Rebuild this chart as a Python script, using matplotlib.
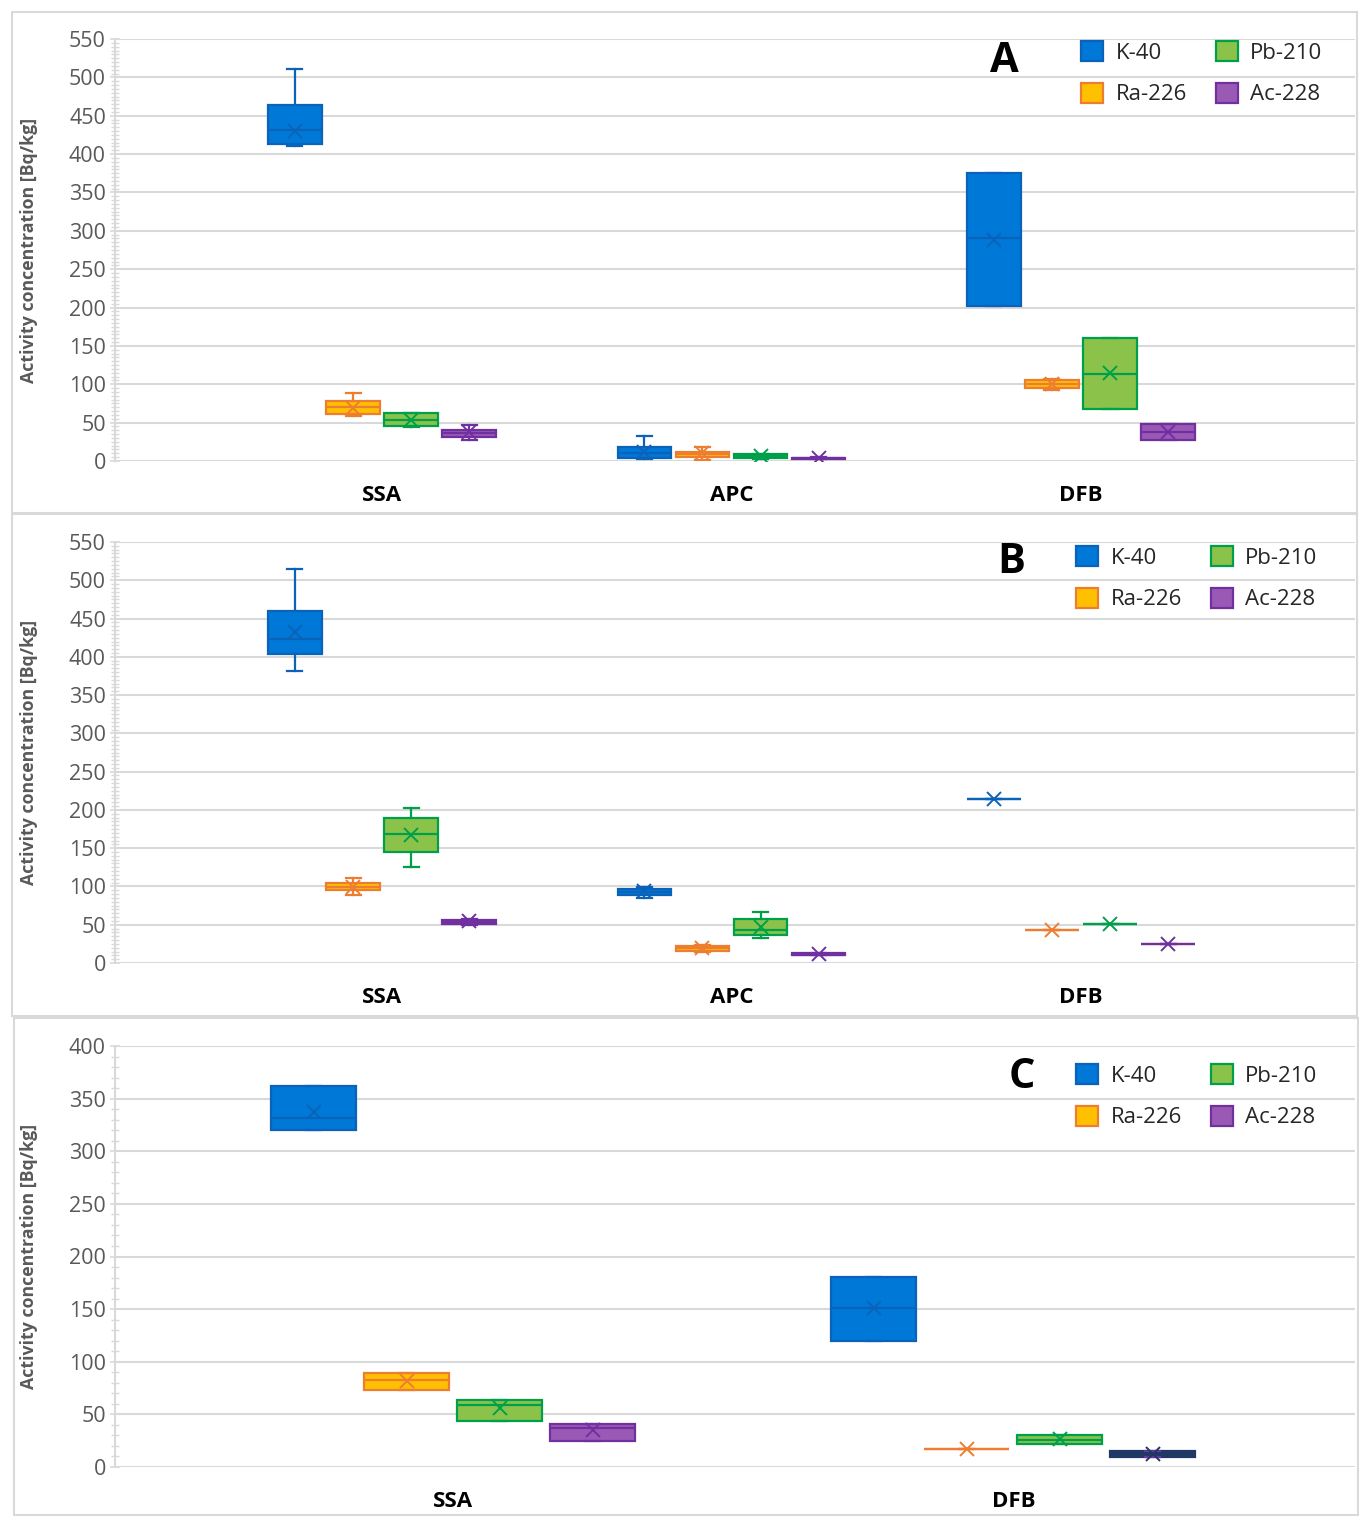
import numpy as np
import matplotlib
matplotlib.use("Agg")
import matplotlib.pyplot as plt
from matplotlib.patches import Patch, Rectangle

plt.rcParams['font.family'] = ['Open Sans', 'DejaVu Sans']

isotopes = ["K-40", "Ra-226", "Pb-210", "Ac-228"]
fills = ["#0078D7", "#FFC000", "#8BC34A", "#9B59B6"]
edges = ["#0A63B8", "#ED7D31", "#00A04B", "#7030A0"]

# panel A: SSA, APC, DFB  -> per isotope: whislo, q1, med, q3, whishi, mean
cats_A = ["SSA", "APC", "DFB"]
A_whislo = [[411, 2, 202], [58, 1, 93], [44, 2, 68], [28, 2, 28]]
A_q1     = [[413, 3.5, 202], [61, 5.5, 95], [45, 3.5, 68], [31, 2.5, 28]]
A_med    = [[431, 11, 290], [70, 8.5, 100], [53, 6, 113], [36, 3.5, 38]]
A_q3     = [[464, 18, 376], [78, 12, 105], [62, 8.5, 160], [40, 4.5, 48]]
A_whishi = [[511, 32, 376], [88, 18, 107], [62, 9, 160], [47, 5, 48]]
A_mean   = [[430, 12, 288], [69, 10, 100], [53, 6, 115], [38, 4, 38]]

# panel B
cats_B = ["SSA", "APC", "DFB"]
B_whislo = [[381, 85, 214.7], [89, 14, 42.7], [125, 33, 51.4], [50, 10, 25.3]]
B_q1     = [[404, 88.5, 214.7], [95, 16, 42.7], [145, 36, 51.4], [51, 10, 25.3]]
B_med    = [[423, 93, 214.7], [99, 19, 42.7], [168, 43, 51.4], [53, 11, 25.3]]
B_q3     = [[460, 97, 214.7], [104, 22, 42.7], [190, 57, 51.4], [56, 12.5, 25.3]]
B_whishi = [[515, 99, 214.7], [111, 24, 42.7], [203, 67, 51.4], [57, 13, 25.3]]
B_mean   = [[432, 94, 214.7], [99, 19, 42.7], [167, 47, 51.4], [55, 11.5, 25.3]]

# panel C
cats_C = ["SSA", "DFB"]
C_whislo = [[320, 120], [73, 17.4], [44, 21.5], [25, 9.5]]
C_q1     = [[320, 120], [73, 17.4], [44, 21.5], [25, 9.5]]
C_med    = [[332, 151], [83, 17.4], [58.5, 26], [37, 12.6]]
C_q3     = [[362, 180.5], [89, 17.4], [64, 30], [41, 14.8]]
C_whishi = [[362, 180.5], [89, 17.4], [64, 30], [41, 14.8]]
C_mean   = [[337, 151], [82, 17.4], [56, 27], [35, 12.6]]
C_navy = "#1F3864"  # DFB Ac-228 box is drawn in navy in panel C

W, H = 1359, 1516
fig = plt.figure(figsize=(W / 100, H / 100), dpi=100)
fig.patch.set_facecolor("white")

offsets = [-0.249, -0.083, 0.083, 0.249]
bw = 0.152

panels = [
    ("A", cats_A, (A_whislo, A_q1, A_med, A_q3, A_whishi, A_mean), 550, 5,
     (115, 39, 1355, 461), (-0.764, 2.784), (12, 12, 1357, 513), (1004, 61), (1081, 41), 349.5),
    ("B", cats_B, (B_whislo, B_q1, B_med, B_q3, B_whishi, B_mean), 550, 5,
     (115, 542, 1355, 963), (-0.764, 2.784), (12, 514, 1357, 1016), (1011, 563), (1076, 546), 349.5),
    ("C", cats_C, (C_whislo, C_q1, C_med, C_q3, C_whishi, C_mean), 400, 10,
     (115, 1046, 1355, 1467), (-0.604, 1.61), (14, 1018, 1358, 1515), (1022, 1078), (1076, 1064), 560),
]

for letter, cats, st, ymax, minor, box, xl, frame, lxy, legxy, pxu in panels:
    fl, ft, fr, fb = frame
    fig.patches.append(Rectangle((fl / W, 1 - fb / H), (fr - fl) / W, (fb - ft) / H,
                                 transform=fig.transFigure, fill=False,
                                 ec="#D9D9D9", lw=1.5))
    l, t, r, b = box
    ax = fig.add_axes([l / W, 1 - b / H, (r - l) / W, (b - t) / H])
    ax.set_xlim(*xl)
    ax.set_ylim(0, ymax)
    ax.set_axisbelow(True)
    whislo, q1, med, q3, whishi, mean = st
    capw = 15 / pxu
    x = np.arange(len(cats))
    for k in range(4):
        stats = []
        for j in range(len(cats)):
            stats.append(dict(whislo=whislo[k][j], q1=q1[k][j], med=med[k][j],
                              q3=q3[k][j], whishi=whishi[k][j], mean=mean[k][j], fliers=[]))
        ec, fc = edges[k], fills[k]
        res = ax.bxp(stats, positions=x + offsets[k], widths=bw, capwidths=capw,
                     patch_artist=True, showmeans=True, showfliers=False, manage_ticks=False,
                     boxprops=dict(facecolor=fc, edgecolor=ec, linewidth=1.6),
                     medianprops=dict(color=ec, linewidth=1.6),
                     whiskerprops=dict(color=ec, linewidth=1.6),
                     capprops=dict(color=ec, linewidth=1.6),
                     meanprops=dict(marker="x", markeredgecolor=ec, markersize=10,
                                    markeredgewidth=1.4))
        if letter == "C" and k == 3:
            j = cats.index("DFB")
            res["boxes"][j].set_facecolor(C_navy)
            res["boxes"][j].set_edgecolor(C_navy)
            res["medians"][j].set_color(C_navy)
            res["means"][j].set_markeredgecolor(C_navy)
    ax.set_yticks(np.arange(0, ymax + 1, 50))
    ax.set_yticks(np.arange(0, ymax + 1, minor), minor=True)
    ax.grid(axis="y", which="major", color="#D9D9D9", lw=1.5)
    for s in ["top", "right", "bottom"]:
        ax.spines[s].set_visible(False)
    ax.spines["left"].set_color("#D9D9D9")
    ax.spines["left"].set_linewidth(1.5)
    ax.tick_params(axis="y", which="both", direction="inout", color="#D9D9D9",
                   labelsize=15.5, labelcolor="#595959", pad=3)
    ax.tick_params(axis="y", which="major", length=7, width=1.2)
    ax.tick_params(axis="y", which="minor", length=6, width=1)
    ax.set_xticks(x)
    ax.set_xticklabels(cats, fontsize=16, fontweight="bold", color="black")
    ax.tick_params(axis="x", length=0, pad=17)
    ax.set_ylabel("Activity concentration [Bq/kg]", fontsize=12.8, fontweight="bold",
                  color="#595959")
    ax.yaxis.set_label_coords((38 - l) / (r - l), 0.5)
    fig.text(lxy[0] / W, 1 - lxy[1] / H, letter, fontsize=30, fontweight="bold",
             ha="center", va="center")
    handles = [Patch(facecolor=fills[i], edgecolor=edges[i], lw=1.6, label=isotopes[i])
               for i in range(4)]
    ax.legend(handles=handles, ncol=2, loc="upper left",
              bbox_to_anchor=(legxy[0] / W, 1 - legxy[1] / H), bbox_transform=fig.transFigure,
              frameon=False, fontsize=16, handlelength=1.0, handleheight=1.0,
              handletextpad=0.55, columnspacing=1.3, labelspacing=0.86,
              borderpad=0, borderaxespad=0, labelcolor="#262626")

fig.savefig("out.png", dpi=100)
